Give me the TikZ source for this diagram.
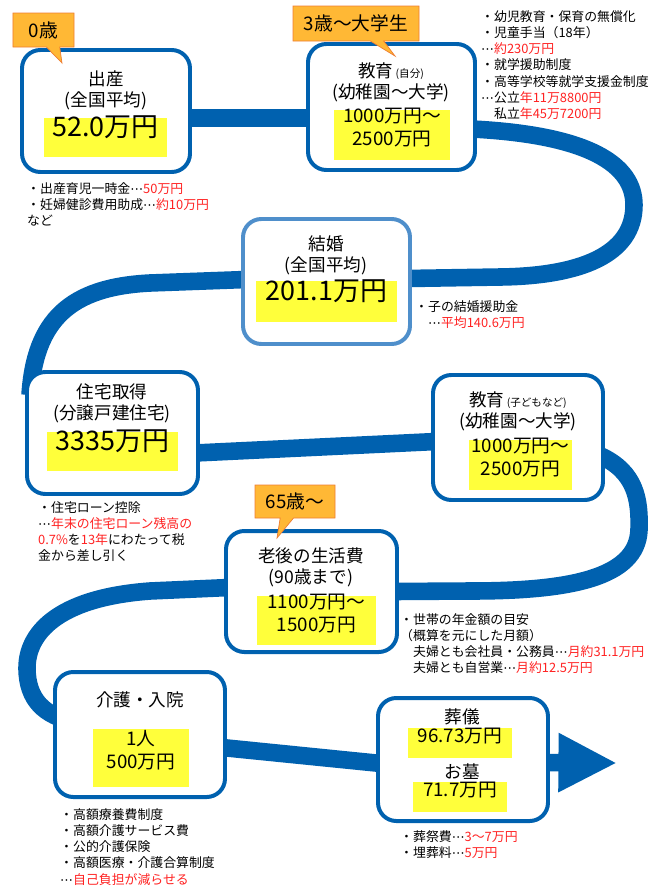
\documentclass[tikz,border=0pt]{standalone}
\usepackage{fontspec}
\setmainfont{Noto Sans CJK JP}
\newfontfamily\dotsfont{DejaVu Sans}
\usetikzlibrary{arrows.meta,positioning,calc,fit,backgrounds,shapes.callouts}
\definecolor{road}{HTML}{0061AF}
\definecolor{roadlt}{HTML}{4F8FCB}
\definecolor{tagfill}{HTML}{FFB835}
\definecolor{tagline}{HTML}{EE7E32}
\definecolor{hilite}{HTML}{FFFF3B}
\definecolor{money}{HTML}{FF2222}
\newcommand{\kin}[1]{\textcolor{money}{#1}}
\newcommand{\ten}{\makebox[1em]{\dotsfont ⋯}}

\tikzset{
  stage/.style={draw=road, line width=3.4pt, rounded corners=0.55cm, fill=white, inner sep=0pt},
  band/.style={draw=road, line width=15pt},
  amount/.style={fill=hilite, inner sep=0pt, align=center},
  heading/.style={font=\fontsize{15}{18}\selectfont, align=center},
  memo/.style={anchor=north west, font=\fontsize{11}{13.9}\selectfont, align=left, inner sep=0pt},
  agetag/.style={rectangle callout, fill=tagfill, draw=tagline, line width=0.6pt,
    font=\fontsize{16}{18}\selectfont, callout pointer width=0.4cm},
}

\begin{document}
\begin{tikzpicture}[x=0.03cm, y=-0.03cm]
  \useasboundingbox (0,0) rectangle (665,888);

  % stages
  \node[stage, fit={(22,50) (190,172)}] (birth) {};
  \node[stage, fit={(308,44) (475,170)}] (school) {};
  \node[stage, draw=roadlt, fit={(243,219) (410,344)}] (wedding) {};
  \node[stage, fit={(27,372) (198,494)}] (house) {};
  \node[stage, fit={(433,375) (603,500)}] (kids) {};
  \node[stage, fit={(226,531) (397,652)}] (retire) {};
  \node[stage, fit={(55,672) (225,797)}] (care) {};
  \node[stage, fit={(378,698) (548,821)}] (funeral) {};
  \coordinate (goal) at (617,763);

  % road
  \begin{scope}[on background layer]
    \draw[band] ($(birth.east)+(-5,7)$) -- ($(school.west)+(5,11)$);
    \draw[band] ($(school.east)+(-5,22)$) .. controls (590,135) and (634,165) .. (634,205)
      .. controls (634,255) and (580,276) .. (500,277) -- ($(wedding.east)+(-5,-3)$);
    \draw[band] ($(wedding.west)+(5,-2)$) -- (150,283) .. controls (70,287) and (35,320) .. ($(house.north west)+(5,25)$);
    \draw[band] ($(house.east)+(-5,20)$) -- ($(kids.west)+(5,4)$);
    \draw[band] ($(kids.east)+(-5,18)$) .. controls (636,472) and (640,500) .. (639,530)
      .. controls (637,578) and (570,591) .. (470,591) -- ($(retire.east)+(-5,0)$);
    \draw[band] ($(retire.west)+(5,-4)$) -- (150,591) .. controls (55,598) and (27,635) .. (27,668)
      .. controls (27,700) and (45,716) .. ($(care.west)+(20,-13)$);
    \draw[band] ($(care.east)+(-5,13)$) -- ($(funeral.west)+(5,4)$);
    \draw[band, -{Triangle[length=50pt, width=47pt]}] ($(funeral.east)+(-5,3)$) -- (goal);
  \end{scope}

  % titles
  \node[heading] (birthttl) at (106,90.5) {出産\\(全国平均)};
  \node[heading] (schoolttl) at (391,82.5) {教育{\fontsize{9}{10}\selectfont\ (自分)}\\(幼稚園〜大学)};
  \node[heading] (weddingttl) at (326,255.5) {結婚\\(全国平均)};
  \node[heading] (housettl) at (112,403) {住宅取得\\(分譲戸建住宅)};
  \node[heading] (kidsttl) at (518,411) {教育{\fontsize{9}{10}\selectfont\ (子どもなど)}\\(幼稚園〜大学)};
  \node[heading] (retirettl) at (311,567) {老後の生活費\\(90歳まで)};
  \node[heading] (carettl) at (140,700) {介護・入院};
  \node[heading] (funeralttl) at (462,717) {葬儀};
  \node[heading] (gravettl) at (462,772) {お墓};

  % amounts
  \node[amount, fit={(44,118) (167,157)}, font=\fontsize{23}{26}\selectfont] (birthamt) {52.0万円};
  \node[amount, align=left, fit={(334,110) (450,160)}, font=\fontsize{16}{19.5}\selectfont] (schoolamt) {1000万円〜\\2500万円};
  \node[amount, fit={(256,281) (397,322)}, font=\fontsize{23}{26}\selectfont] (weddingamt) {201.1万円};
  \node[amount, fit={(47,432) (178,471)}, font=\fontsize{23}{26}\selectfont] (houseamt) {3335万円};
  \node[amount, align=left, fit={(469,440) (572,490)}, font=\fontsize{16}{19.5}\selectfont] (kidsamt) {1000万円〜\\2500万円};
  \node[amount, align=left, fit={(257,596) (376,645)}, font=\fontsize{16}{19.5}\selectfont] (retireamt) {1100万円〜\\1500万円};
  \node[amount, fit={(93,729) (189,787)}, font=\fontsize{16}{19.5}\selectfont] (careamt) {1人\\500万円};
  \node[amount, fit={(408,728) (512,758)}, font=\fontsize{16}{19.5}\selectfont] (funeralamt) {96.73万円};
  \node[amount, fit={(413,782) (507,812)}, font=\fontsize{16}{19.5}\selectfont] (graveamt) {71.7万円};

  % age tags
  \node[agetag, callout absolute pointer={(62,63)}, minimum width=1.83cm, minimum height=1.02cm] (age0) at (43.5,30) {0歳};
  \node[agetag, callout absolute pointer={(395,56)}, minimum width=3.78cm, minimum height=1.05cm] (age3) at (356,23.5) {3歳〜大学生};
  \node[agetag, callout absolute pointer={(277,538)}, minimum width=2.4cm, minimum height=0.99cm] (age65) at (295,501.5) {65歳〜};

  % notes
  \node[memo] (birthmemo) at (27,182) {・出産育児一時金\ten\kin{50万円}\\・妊婦健診費用助成\ten\kin{約10万円}\\など};
  \node[memo] (schoolmemo) at (481,10) {・幼児教育・保育の無償化\\・児童手当（18年）\\\ten\kin{約230万円}\\・就学援助制度\\・高等学校等就学支援金制度\\\ten 公立\kin{年11万8800円}\\　私立\kin{年45万7200円}};
  \node[memo] (weddingmemo) at (415,300) {・子の結婚援助金\\　\ten\kin{平均140.6万円}};
  \node[memo] (housememo) at (38,501) {・住宅ローン控除\\\ten\kin{年末の住宅ローン残高の}\\\kin{0.7\%}を\kin{13年}にわたって税\\金から差し引く};
  \node[memo] (retirememo) at (400,613) {・世帯の年金額の目安\\（概算を元にした月額）\\　夫婦とも会社員・公務員\ten\kin{月約31.1万円}\\　夫婦とも自営業\ten\kin{月約12.5万円}};
  \node[memo] (carememo) at (60,808) {・高額療養費制度\\・高額介護サービス費\\・公的介護保険\\・高額医療・介護合算制度\\\ten\kin{自己負担が減らせる}};
  \node[memo] (funeralmemo) at (400,830) {・葬祭費\ten\kin{3〜7万円}\\・埋葬料\ten\kin{5万円}};
\end{tikzpicture}
\end{document}
